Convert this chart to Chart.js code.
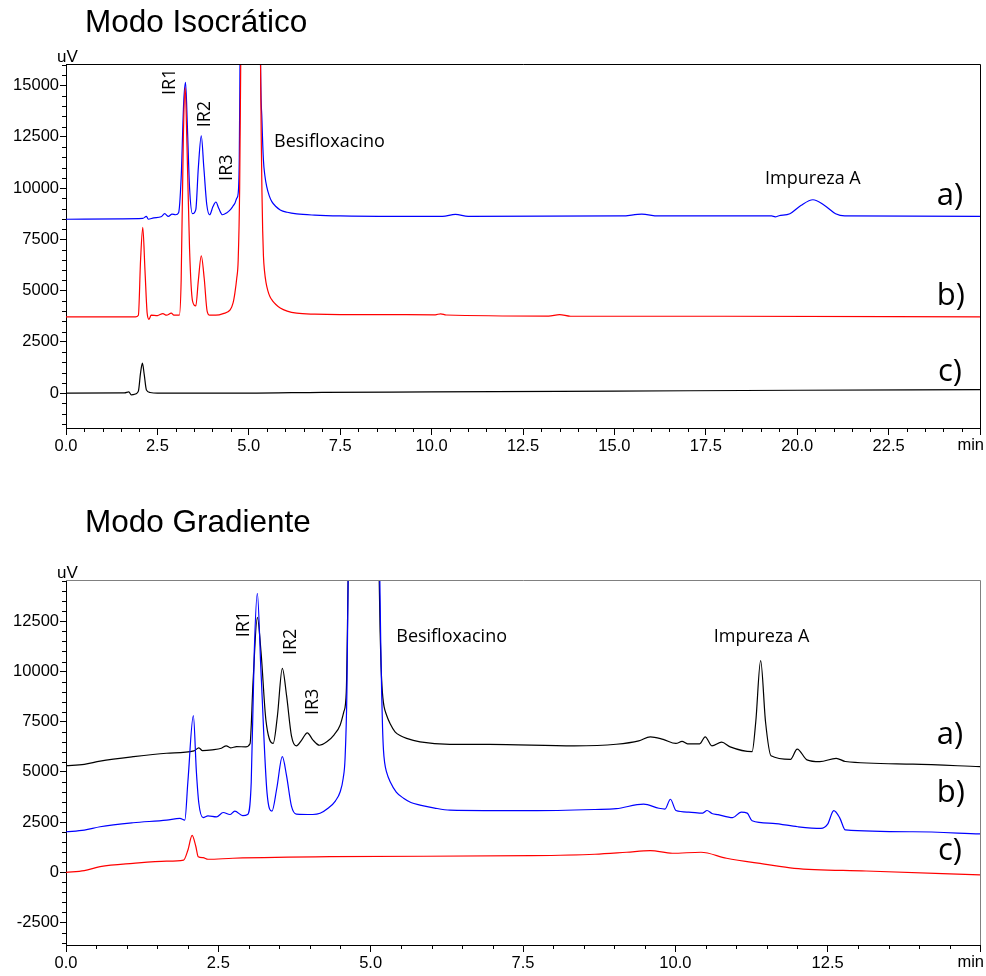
<!DOCTYPE html>
<html>
<head>
<meta charset="utf-8">
<script src="https://cdn.jsdelivr.net/npm/chart.js@4.4.1/dist/chart.umd.min.js"></script>
<style>
  html, body { margin: 0; padding: 0; background: #fff; }
  #wrap { position: relative; width: 986px; height: 976px; }
  .box { position: absolute; left: 0; width: 986px; }
  #isoBox { top: 0; height: 475px; }
  #gradBox { top: 490px; height: 486px; }
</style>
</head>
<body>
<div id="wrap">
  <div class="box" id="isoBox"><canvas id="isoChart"></canvas></div>
  <div class="box" id="gradBox"><canvas id="gradChart"></canvas></div>
</div>
<script>
// ---- Modo Isocrático: [min, uV] pairs ----
const isoA = [ // blue
  [0, 8480], [1.5, 8500], [2.1, 8520], [2.2, 8620], [2.25, 8480], [2.4, 8550], [2.6, 8600],
  [2.7, 8750], [2.8, 8620], [2.9, 8730], [3.0, 8700], [3.08, 8800], [3.15, 10500], [3.22, 14200],
  [3.27, 15150], [3.32, 13000], [3.38, 10000], [3.46, 8750], [3.55, 8950], [3.62, 11000],
  [3.7, 12550], [3.77, 11000], [3.85, 9200], [3.93, 8700], [4.02, 9100], [4.1, 9320], [4.18, 9000],
  [4.28, 8700], [4.4, 8800], [4.49, 8935], [4.56, 9100], [4.62, 9260], [4.67, 9500], [4.71, 9750],
  [4.74, 11500], [4.76, 16300], [4.85, 40000], [5.05, 60000], [5.25, 40000], [5.32, 16300],
  [5.36, 13300], [5.4, 11370], [5.44, 10600], [5.49, 10070], [5.56, 9620], [5.63, 9340],
  [5.74, 9100], [5.86, 8935], [6.05, 8820], [6.31, 8740], [6.8, 8680], [7.5, 8640], [9, 8620],
  [10.3, 8620], [10.65, 8720], [11, 8620], [15.2, 8640], [15.75, 8730], [16.2, 8640], [19.3, 8640],
  [19.4, 8600], [19.5, 8650], [19.8, 8750], [20.1, 9150], [20.43, 9430], [20.75, 9150], [21.05, 8750],
  [21.3, 8640], [25, 8620]
];
const isoB = [ // red
  [0, 3720], [1.9, 3720], [1.98, 3800], [2.04, 6500], [2.1, 8080], [2.16, 6000], [2.22, 3900],
  [2.27, 3600], [2.33, 3800], [2.5, 3780], [2.65, 3880], [2.75, 3800], [2.88, 3900], [2.95, 3800],
  [3.1, 3800], [3.15, 5500], [3.21, 12500], [3.26, 14900], [3.31, 12000], [3.38, 7000], [3.46, 4500],
  [3.55, 4250], [3.62, 5500], [3.7, 6700], [3.78, 5600], [3.86, 4000], [3.93, 3800], [4.1, 3800],
  [4.3, 3880], [4.49, 4060], [4.57, 4400], [4.62, 4890], [4.67, 5600], [4.71, 6500], [4.75, 10000],
  [4.78, 16300], [4.9, 40000], [5.05, 60000], [5.2, 40000], [5.32, 16300], [5.34, 12500],
  [5.36, 9800], [5.38, 7900], [5.4, 6700], [5.43, 5950], [5.47, 5400], [5.52, 5000], [5.58, 4700],
  [5.65, 4500], [5.74, 4320], [5.86, 4150], [6.05, 4000], [6.31, 3900], [6.8, 3850], [7.5, 3830],
  [8.5, 3830], [10.1, 3820], [10.25, 3870], [10.4, 3810], [13.2, 3760], [13.5, 3830], [13.8, 3750],
  [18, 3750], [25, 3720]
];
const isoC = [ // black
  [0, 0], [1.6, 10], [1.72, 60], [1.78, -80], [1.9, -40], [1.98, 100], [2.04, 1000], [2.09, 1460],
  [2.14, 900], [2.2, 150], [2.3, 30], [2.5, 0], [5, 0], [7, 40], [10, 60], [15, 100], [20, 140], [25, 170]
];
const isoXTicks = [0, 2.5, 5, 7.5, 10, 12.5, 15, 17.5, 20, 22.5, 25];
const isoYTicks = [0, 2500, 5000, 7500, 10000, 12500, 15000];
const isoLabels = [ // text, min, uV, rotated
  ["IR1", 2.98, 14540, true], ["IR2", 3.94, 12965, true], ["IR3", 4.55, 10350, true],
  ["Besifloxacino", 5.69, 12005, false], ["Impureza A", 19.12, 10200, false]
];
const isoTraceTags = [["a)", 23.82, 9180], ["b)", 23.82, 4310], ["c)", 23.85, 600]];

// ---- Modo Gradiente ----
const gradA = [ // black
  [0, 5310], [0.3, 5380], [0.56, 5540], [1.1, 5760], [1.65, 5930], [2.1, 6050], [2.18, 6200],
  [2.24, 6060], [2.4, 6100], [2.55, 6180], [2.63, 6300], [2.7, 6200], [2.8, 6260], [2.95, 6250],
  [3.02, 6400], [3.07, 9500], [3.14, 12700], [3.2, 11000], [3.28, 7600], [3.4, 6420], [3.47, 7800],
  [3.55, 10160], [3.62, 8800], [3.7, 6800], [3.78, 6300], [3.87, 6600], [3.96, 6950], [4.05, 6600],
  [4.16, 6330], [4.28, 6500], [4.4, 6850], [4.5, 7340], [4.56, 8000], [4.6, 9000], [4.63, 14600],
  [4.75, 40000], [4.9, 60000], [5.05, 40000], [5.14, 14600], [5.155, 12000], [5.17, 10300],
  [5.185, 9300], [5.2, 8700], [5.22, 8250], [5.26, 7835], [5.32, 7400], [5.4, 7000], [5.49, 6800],
  [5.59, 6670], [5.81, 6500], [6.3, 6375], [6.95, 6370], [8.34, 6300], [9.03, 6380], [9.4, 6550],
  [9.59, 6750], [9.8, 6620], [10.01, 6420], [10.11, 6520], [10.2, 6400], [10.4, 6400], [10.49, 6750],
  [10.6, 6300], [10.76, 6480], [10.9, 6250], [11.26, 6010], [11.32, 7500], [11.4, 10540], [11.48, 7500],
  [11.57, 5810], [11.89, 5630], [12.0, 6140], [12.16, 5600], [12.37, 5510], [12.64, 5680], [12.79, 5520],
  [13.9, 5390], [15, 5260]
];
const gradB = [ // blue
  [0, 2020], [0.3, 2100], [0.56, 2270], [1.1, 2470], [1.65, 2600], [1.87, 2690], [1.95, 2600],
  [2.0, 4500], [2.09, 7800], [2.14, 5000], [2.18, 3440], [2.25, 2720], [2.33, 2810], [2.47, 2760],
  [2.58, 2980], [2.69, 2880], [2.77, 3050], [2.9, 2820], [2.98, 2880], [3.04, 4500], [3.09, 11000],
  [3.14, 13890], [3.2, 10000], [3.3, 3930], [3.38, 3050], [3.46, 4200], [3.55, 5760], [3.62, 4800],
  [3.7, 3300], [3.78, 2900], [4.05, 2880], [4.17, 2940], [4.3, 3190], [4.42, 3550], [4.5, 4015],
  [4.55, 4700], [4.58, 5680], [4.61, 9000], [4.63, 14600], [4.75, 40000], [4.9, 60000], [5.05, 40000],
  [5.15, 14600], [5.165, 11500], [5.18, 9000], [5.195, 7200], [5.21, 6100], [5.23, 5450], [5.26, 5000],
  [5.32, 4510], [5.42, 4000], [5.54, 3690], [5.66, 3480], [5.81, 3350], [6.05, 3200], [6.3, 3100],
  [7.64, 3070], [8.68, 3130], [9.03, 3170], [9.48, 3400], [9.73, 3190], [9.83, 3150], [9.92, 3640],
  [10.01, 3080], [10.22, 3000], [10.45, 2950], [10.52, 3080], [10.6, 2930], [10.7, 2870], [10.94, 2720],
  [11.08, 3000], [11.18, 2950], [11.26, 2570], [11.6, 2440], [12.01, 2270], [12.39, 2190], [12.5, 2400],
  [12.6, 3070], [12.7, 2700], [12.79, 2110], [13.9, 2020], [15, 1910]
];
const gradC = [ // red
  [0, 0], [0.3, 80], [0.56, 280], [1.1, 450], [1.65, 560], [1.93, 610], [2.0, 1100], [2.07, 1840],
  [2.13, 1300], [2.17, 780], [2.25, 730], [2.33, 650], [2.74, 700], [4.33, 780], [7.64, 830],
  [8.68, 900], [9.2, 1000], [9.59, 1080], [9.95, 950], [10.42, 1000], [10.84, 700], [11.46, 410],
  [11.95, 200], [13.13, 65], [15, -130]
];
const gradXTicks = [0, 2.5, 5, 7.5, 10, 12.5, 15];
const gradYTicks = [-2500, 0, 2500, 5000, 7500, 10000, 12500];
const gradLabels = [
  ["IR1", 3.01, 11705, true], ["IR2", 3.77, 10823, true], ["IR3", 4.14, 7835, true],
  ["Besifloxacino", 5.42, 11470, false], ["Impureza A", 10.63, 11470, false]
];
const gradTraceTags = [["a)", 14.29, 6400], ["b)", 14.29, 3500], ["c)", 14.31, 615]];

const BLUE = "#0000ff";
const RED = "#ff0000";
const BLACK = "#000000";
const tickFont = { family: "'Liberation Sans', Arial, sans-serif", size: 16.5 };

function makeDataset(label, pairs, color) {
  return {
    label: label,
    data: pairs.map((p) => ({ x: p[0], y: p[1] })),
    borderColor: color,
    borderWidth: 1.2,
    pointRadius: 0,
    fill: false,
    cubicInterpolationMode: "monotone",
  };
}

// Draws the title, unit, plot frame, minor ticks and the peak labels
function decorPlugin(cfg) {
  return {
    id: "decor",
    afterDraw(chart) {
      const ctx = chart.ctx;
      const a = chart.chartArea;
      const xs = chart.scales.x;
      const ys = chart.scales.y;
      ctx.save();

      // frame (top + right)
      ctx.strokeStyle = cfg.frameColor;
      ctx.lineWidth = 1;
      ctx.beginPath();
      ctx.moveTo(Math.round(a.left), Math.round(a.top) + 0.5);
      ctx.lineTo(Math.round(a.right) + 0.5, Math.round(a.top) + 0.5);
      ctx.lineTo(Math.round(a.right) + 0.5, Math.round(a.bottom));
      ctx.stroke();

      // minor ticks
      ctx.strokeStyle = "#000";
      ctx.beginPath();
      for (let i = 0; i * 0.5 <= xs.max + 1e-9; i++) {
        if (i % 5 === 0) continue;
        const px = Math.round(xs.getPixelForValue(i * 0.5)) + 0.5;
        ctx.moveTo(px, a.bottom);
        ctx.lineTo(px, a.bottom + 4);
      }
      for (let v = Math.ceil(ys.min / 500) * 500; v <= ys.max; v += 500) {
        if (v % 2500 === 0) continue;
        const py = Math.round(ys.getPixelForValue(v)) + 0.5;
        ctx.moveTo(a.left - 4, py);
        ctx.lineTo(a.left, py);
      }
      ctx.stroke();

      ctx.fillStyle = "#000";
      // title
      ctx.font = "31.5px 'Liberation Sans', Arial, sans-serif";
      ctx.textAlign = "left";
      ctx.textBaseline = "alphabetic";
      ctx.fillText(cfg.title, 85, cfg.titleY);

      // unit labels
      ctx.font = "17px 'Liberation Sans', Arial, sans-serif";
      ctx.fillText("uV", 57, a.top - 2);
      ctx.font = "16.5px 'Liberation Sans', Arial, sans-serif";
      ctx.textAlign = "right";
      ctx.textBaseline = "top";
      ctx.fillText("min", a.right + 4, xs.top + 9);

      // peak labels
      ctx.font = "18px 'Open Sans', sans-serif";
      ctx.textAlign = "left";
      ctx.textBaseline = "alphabetic";
      cfg.labels.forEach((l) => {
        const px = xs.getPixelForValue(l[1]);
        const py = ys.getPixelForValue(l[2]);
        ctx.save();
        ctx.translate(px, py);
        if (l[3]) ctx.rotate(-Math.PI / 2);
        ctx.fillText(l[0], 0, 0);
        ctx.restore();
      });

      // trace tags a) b) c)
      ctx.font = "31px 'Open Sans', sans-serif";
      cfg.tags.forEach((t) => {
        ctx.fillText(t[0], xs.getPixelForValue(t[1]), ys.getPixelForValue(t[2]));
      });
      ctx.restore();
    },
  };
}

function makeChart(id, datasets, s) {
  const ctx = document.getElementById(id).getContext("2d");
  return new Chart(ctx, {
    type: "line",
    data: { datasets: datasets },
    options: {
      responsive: true,
      maintainAspectRatio: false,
      animation: false,
      events: [],
      layout: { padding: { top: s.padTop, right: 6, left: 0, bottom: 0 } },
      plugins: { legend: { display: false }, tooltip: { enabled: false } },
      scales: {
        x: {
          type: "linear",
          min: 0,
          max: s.xMax,
          afterBuildTicks: (sc) => { sc.ticks = s.xTicks.map((v) => ({ value: v })); },
          afterFit: (sc) => { sc.height = s.xHeight; },
          grid: { drawOnChartArea: false, tickLength: 7, tickColor: "#000", tickWidth: 1 },
          border: { color: "#000", width: 1 },
          ticks: {
            autoSkip: false,
            maxRotation: 0,
            padding: 2,
            color: "#000",
            font: tickFont,
            callback: (v) => (v === s.xMax ? "" : Number(v).toFixed(1)),
          },
        },
        y: {
          type: "linear",
          min: s.yMin,
          max: s.yMax,
          afterBuildTicks: (sc) => { sc.ticks = s.yTicks.map((v) => ({ value: v })); },
          afterFit: (sc) => { sc.width = 66; },
          grid: { drawOnChartArea: false, tickLength: 6, tickColor: "#000", tickWidth: 1 },
          border: { color: "#000", width: 1 },
          ticks: { padding: 1, color: "#000", font: tickFont, callback: (v) => String(v) },
        },
      },
    },
    plugins: [decorPlugin(s)],
  });
}

makeChart("isoChart",
  [makeDataset("b)", isoB, RED), makeDataset("a)", isoA, BLUE), makeDataset("c)", isoC, BLACK)],
  {
    title: "Modo Isocrático", titleY: 32, frameColor: "#000",
    padTop: 64, xHeight: 47, xMax: 25, xTicks: isoXTicks,
    yMin: -1700, yMax: 16050, yTicks: isoYTicks,
    labels: isoLabels, tags: isoTraceTags,
  });

makeChart("gradChart",
  [makeDataset("b)", gradB, BLUE), makeDataset("a)", gradA, BLACK), makeDataset("c)", gradC, RED)],
  {
    title: "Modo Gradiente", titleY: 42, frameColor: "#808080",
    padTop: 90, xHeight: 31, xMax: 15, xTicks: gradXTicks,
    yMin: -3620, yMax: 14560, yTicks: gradYTicks,
    labels: gradLabels, tags: gradTraceTags,
  });
</script>
</body>
</html>
